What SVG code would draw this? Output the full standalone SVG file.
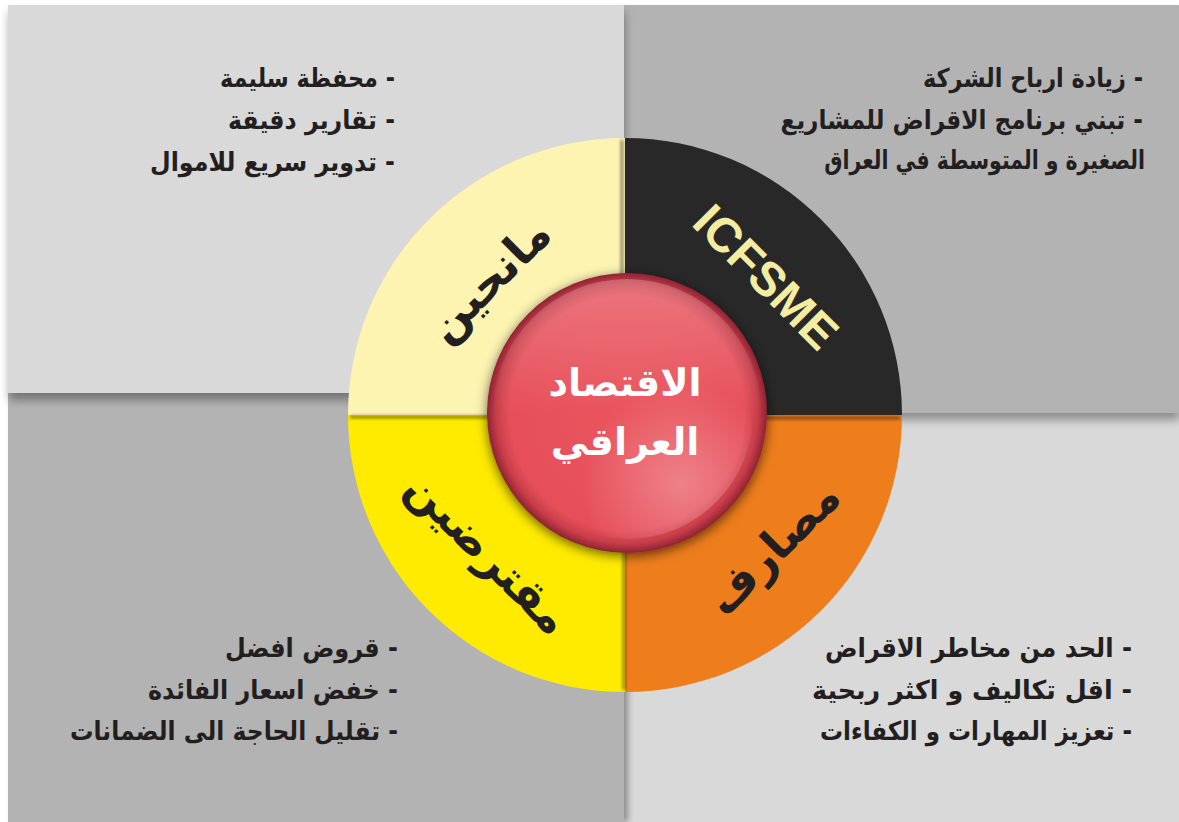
<svg xmlns="http://www.w3.org/2000/svg" width="1179" height="822" viewBox="0 0 1179 822">
  <style>
    .item { font-family: "DejaVu Sans", "Liberation Sans", sans-serif; font-weight: bold; font-size: 26px; fill: #231f20; }
    .lbl { font-family: "DejaVu Sans", "Liberation Sans", sans-serif; font-weight: bold; font-size: 45px; fill: #231f20; }
    .center { font-family: "DejaVu Sans", "Liberation Sans", sans-serif; font-weight: bold; font-size: 38px; fill: #ffffff; }
    .light { fill: #d9d9d9; }
    .dark { fill: #b3b3b3; }
    .sep { stroke: #000; stroke-opacity: 0.45; stroke-width: 3; fill: none; }
  </style>
  <defs>
    <filter id="shDown" x="-5%" y="-5%" width="110%" height="115%">
      <feDropShadow dx="1" dy="7" stdDeviation="5" flood-color="#000" flood-opacity="0.35"/>
    </filter>
    <filter id="shRight" x="-5%" y="-5%" width="110%" height="110%">
      <feDropShadow dx="4" dy="0" stdDeviation="3" flood-color="#000" flood-opacity="0.35"/>
    </filter>
    <filter id="blur2" x="-10%" y="-10%" width="120%" height="120%">
      <feGaussianBlur stdDeviation="1.5"/>
    </filter>
    <filter id="sphereSh" x="-20%" y="-20%" width="140%" height="140%">
      <feDropShadow dx="0" dy="3" stdDeviation="6" flood-color="#000" flood-opacity="0.6"/>
    </filter>
    <radialGradient id="sphereG" cx="50%" cy="50%" r="50%">
      <stop offset="0" stop-color="#ea535c"/>
      <stop offset="0.84" stop-color="#e6505a"/>
      <stop offset="0.93" stop-color="#c83e4a"/>
      <stop offset="1" stop-color="#8f2333"/>
    </radialGradient>
    <radialGradient id="glossBR" cx="72%" cy="78%" r="40%">
      <stop offset="0" stop-color="#ffffff" stop-opacity="0.28"/>
      <stop offset="1" stop-color="#ffffff" stop-opacity="0"/>
    </radialGradient>
    <linearGradient id="glossTop" x1="0" y1="0" x2="0" y2="1">
      <stop offset="0" stop-color="#ffffff" stop-opacity="0.22"/>
      <stop offset="0.5" stop-color="#ffffff" stop-opacity="0"/>
    </linearGradient>
  </defs>

  <rect width="1179" height="822" fill="#ffffff"/>

  <!-- panels -->
  <g id="panel-br"><rect class="light" x="618" y="408" width="561" height="414"/></g>
  <g id="panel-bl"><rect class="dark" x="8" y="390" width="616" height="432" filter="url(#shRight)"/></g>
  <g id="panel-tr"><rect class="dark" x="618" y="5" width="561" height="408" filter="url(#shDown)"/></g>
  <g id="panel-tl"><rect class="light" x="8" y="5" width="616" height="388" filter="url(#shDown)"/></g>

  <!-- ring quadrants -->
  <g id="ring">
    <path id="q-tl" d="M625,415 L348,415 A277,277 0 0 1 625,138 Z" fill="#fdf4b2"/>
    <path id="q-tr" d="M625,415 L625,138 A277,277 0 0 1 902,415 Z" fill="#282828"/>
    <path id="q-br" d="M625,415 L902,415 A277,277 0 0 1 625,692 Z" fill="#ee7d1c"/>
    <path id="q-bl" d="M625,415 L625,692 A277,277 0 0 1 348,415 Z" fill="#ffeb00"/>
    <g filter="url(#blur2)">
      <line class="sep" x1="622" y1="140" x2="622" y2="412"/>
      <line class="sep" x1="350" y1="417" x2="622" y2="417"/>
      <line class="sep" x1="624" y1="419" x2="624" y2="690"/>
      <line class="sep" x1="628" y1="418" x2="900" y2="418"/>
    </g>
  </g>

  <!-- quadrant labels -->
  <g id="label-manhin"><text class="lbl" x="0" y="0" text-anchor="middle" dominant-baseline="central" transform="translate(489,280) rotate(-45)">مانحين</text></g>
  <g id="label-icfsme"><text x="0" y="0" text-anchor="middle" dominant-baseline="central" transform="translate(766,277) rotate(45)" font-family="Liberation Sans, Arial, sans-serif" font-weight="bold" font-size="48" fill="#f4eca0">ICFSME</text></g>
  <g id="label-masarif"><text class="lbl" x="0" y="0" text-anchor="middle" dominant-baseline="central" transform="translate(773,548) rotate(-45)">مصارف</text></g>
  <g id="label-muqtaridin"><text class="lbl" x="0" y="0" text-anchor="middle" dominant-baseline="central" transform="translate(488,553) rotate(45)">مقترضين</text></g>

  <!-- center sphere -->
  <g id="center">
    <circle cx="627" cy="413" r="140" fill="url(#sphereG)" filter="url(#sphereSh)"/>
    <circle cx="627" cy="413" r="126" fill="url(#glossBR)"/>
    <circle cx="627" cy="413" r="134" fill="url(#glossTop)"/>
    <text class="center" x="625" y="383" text-anchor="middle" dominant-baseline="central">الاقتصاد</text>
    <text class="center" x="625" y="442" text-anchor="middle" dominant-baseline="central">العراقي</text>
  </g>

  <!-- panel texts -->
  <g id="text-tl">
    <text class="item" x="395" y="78" direction="rtl" text-anchor="start" dominant-baseline="central" textLength="175" lengthAdjust="spacingAndGlyphs">- محفظة سليمة</text>
    <text class="item" x="395" y="120" direction="rtl" text-anchor="start" dominant-baseline="central" textLength="167" lengthAdjust="spacingAndGlyphs">- تقارير دقيقة</text>
    <text class="item" x="395" y="162" direction="rtl" text-anchor="start" dominant-baseline="central" textLength="245" lengthAdjust="spacingAndGlyphs">- تدوير سريع للاموال</text>
  </g>
  <g id="text-tr">
    <text class="item" x="1143" y="78" direction="rtl" text-anchor="start" dominant-baseline="central" textLength="220" lengthAdjust="spacingAndGlyphs">- زيادة ارباح الشركة</text>
    <text class="item" x="0" y="0" direction="rtl" text-anchor="start" dominant-baseline="central" transform="translate(1143,120) scale(0.892,1)">- تبني برنامج الاقراض للمشاريع</text>
    <text class="item" x="0" y="0" direction="rtl" text-anchor="start" dominant-baseline="central" transform="translate(1145,160) scale(0.786,1)">الصغيرة و المتوسطة في العراق</text>
  </g>
  <g id="text-bl">
    <text class="item" x="398" y="648" direction="rtl" text-anchor="start" dominant-baseline="central" textLength="173" lengthAdjust="spacingAndGlyphs">- قروض افضل</text>
    <text class="item" x="398" y="690" direction="rtl" text-anchor="start" dominant-baseline="central" textLength="250" lengthAdjust="spacingAndGlyphs">- خفض اسعار الفائدة</text>
    <text class="item" x="398" y="731" direction="rtl" text-anchor="start" dominant-baseline="central" textLength="328" lengthAdjust="spacingAndGlyphs">- تقليل الحاجة الى الضمانات</text>
  </g>
  <g id="text-br">
    <text class="item" x="1132" y="648" direction="rtl" text-anchor="start" dominant-baseline="central" textLength="307" lengthAdjust="spacingAndGlyphs">- الحد من مخاطر الاقراض</text>
    <text class="item" x="1132" y="690" direction="rtl" text-anchor="start" dominant-baseline="central" textLength="320" lengthAdjust="spacingAndGlyphs">-  اقل تكاليف و اكثر ربحية</text>
    <text class="item" x="1132" y="731" direction="rtl" text-anchor="start" dominant-baseline="central" textLength="312" lengthAdjust="spacingAndGlyphs">-  تعزيز المهارات و الكفاءات</text>
  </g>
</svg>
